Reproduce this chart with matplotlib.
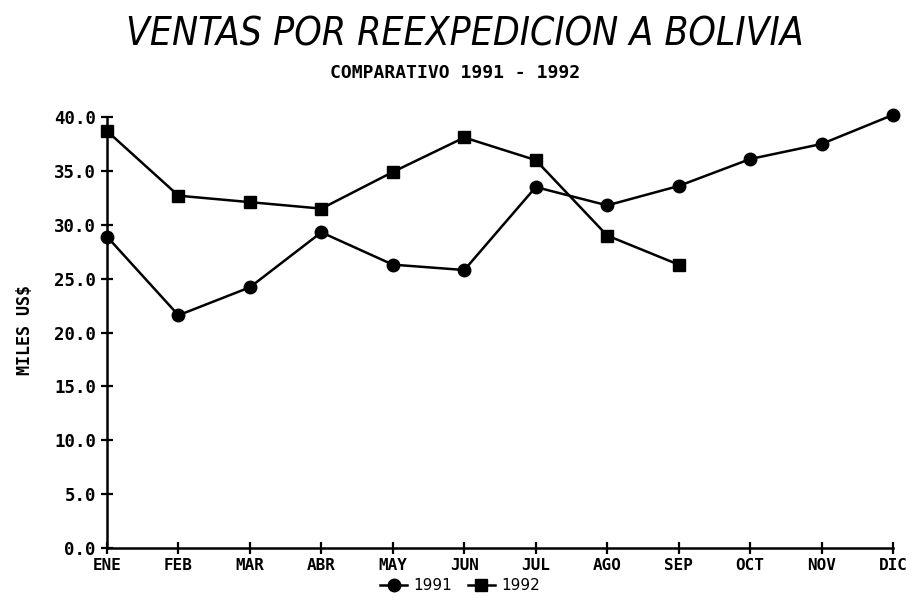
import numpy as np
import matplotlib
matplotlib.use('Agg')
import matplotlib.pyplot as plt

meses = ["ENE", "FEB", "MAR", "ABR", "MAY", "JUN",
         "JUL", "AGO", "SEP", "OCT", "NOV", "DIC"]
ventas_1991 = [28.9, 21.6, 24.2, 29.3, 26.3, 25.8,
               33.5, 31.8, 33.6, 36.1, 37.5, 40.2]
ventas_1992 = [38.7, 32.7, 32.1, 31.5, 34.9, 38.1,
               36.0, 29.0, 26.3]
yticks = np.arange(0, 45, 5)

fig = plt.figure(figsize=(9.2, 6.02), dpi=100)
ax = fig.add_axes([0.1163, 0.0897, 0.8544, 0.7159])

x = np.arange(len(meses))
ax.plot(x, ventas_1991, '-o', color='black', lw=1.8, ms=9, label='1991',
        clip_on=False, zorder=3)
ax.plot(x[:len(ventas_1992)], ventas_1992, '-s', color='black', lw=1.8,
        ms=8.5, label='1992', clip_on=False, zorder=3)

ax.set_xlim(0, len(meses) - 1)
ax.set_ylim(0, 40)
ax.set_xticks(x)
ax.set_xticklabels(meses)
ax.set_yticks(yticks)
ax.set_yticklabels(["%.1f" % v for v in yticks])
for s in ['top', 'right']:
    ax.spines[s].set_visible(False)
for s in ['left', 'bottom']:
    ax.spines[s].set_linewidth(1.8)
ax.tick_params(direction='inout', length=8, width=1.6)
ax.tick_params(axis='x', pad=3)
ax.tick_params(axis='y', pad=4)
for lab in ax.get_yticklabels():
    lab.set_fontfamily('DejaVu Sans Mono')
    lab.set_fontweight('bold')
    lab.set_fontsize(12.5)
for lab in ax.get_xticklabels():
    lab.set_fontfamily('DejaVu Sans Mono')
    lab.set_fontweight('bold')
    lab.set_fontsize(11.5)
ax.patch.set_alpha(0)

fig.text(0.027, 0.452, "MILES US$", rotation=90, ha='center', va='center',
         family='DejaVu Sans Mono', fontweight='bold', fontsize=12)
fig.text(0.505, 0.943, "VENTAS POR REEXPEDICION A BOLIVIA", ha='center',
         va='center', fontsize=28, style='italic', family='DejaVu Sans',
         stretch='condensed')
fig.text(0.495, 0.878, "COMPARATIVO 1991 - 1992", ha='center', va='center',
         fontsize=13, family='DejaVu Sans Mono', fontweight='bold')

fig.legend(loc='center', bbox_to_anchor=(0.50, 0.027), ncol=2,
           frameon=False, fontsize=11, handlelength=1.8, columnspacing=1.0,
           handletextpad=0.4, borderpad=0)

fig.savefig("out.png", dpi=100)
